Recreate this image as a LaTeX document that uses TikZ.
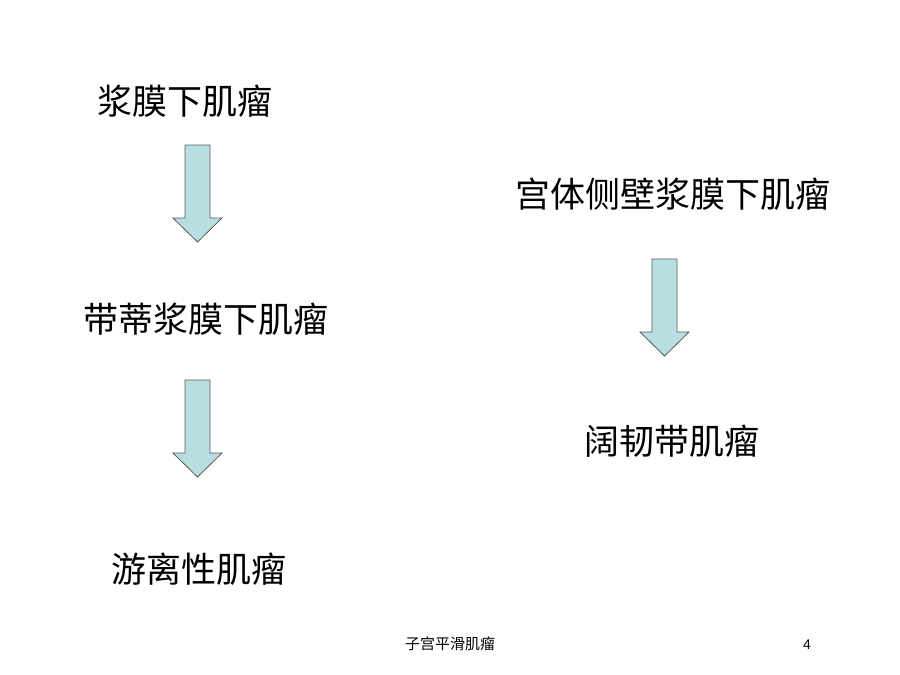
\documentclass[tikz,border=0pt]{standalone}
\usepackage{fontspec}
\setmainfont{Liberation Sans}
\newfontfamily\cjk{Noto Sans CJK SC}
\definecolor{arrowfill}{RGB}{184,222,225}
\definecolor{arrowline}{RGB}{90,90,90}
\begin{document}
\begin{tikzpicture}[x=1pt,y=-1pt,
  lbl/.style={inner sep=0pt,font=\cjk\fontsize{35}{35}\selectfont},
  foot/.style={inner sep=0pt,font=\cjk\fontsize{15}{15}\selectfont},
  arrowstyle/.style={draw=arrowline,fill=arrowfill,line width=0.8pt,line join=miter},
  downarrow/.pic={\path[arrowstyle] (-12.5,0) -- (12.5,0) -- (12.5,73) -- (24.5,73) -- (0,97) -- (-24.5,73) -- (-12.5,73) -- cycle;}]
\useasboundingbox (0,0) rectangle (900,675);
\fill[white] (0,0) rectangle (900,675);
\node[lbl] (a1) at (185,101) {浆膜下肌瘤};
\node[lbl] (a2) at (206,319) {带蒂浆膜下肌瘤};
\node[lbl] (a3) at (199,569) {游离性肌瘤};
\node[lbl] (b1) at (673,194) {宫体侧壁浆膜下肌瘤};
\node[lbl] (b2) at (672,441) {阔韧带肌瘤};
\pic at (197.5,145) {downarrow};
\pic at (197.5,380) {downarrow};
\pic at (664.5,259) {downarrow};
\node[foot] (f1) at (450,644) {子宫平滑肌瘤};
\node[inner sep=0pt,font=\fontsize{14}{14}\selectfont] (f2) at (807,645) {4};
\end{tikzpicture}
\end{document}
